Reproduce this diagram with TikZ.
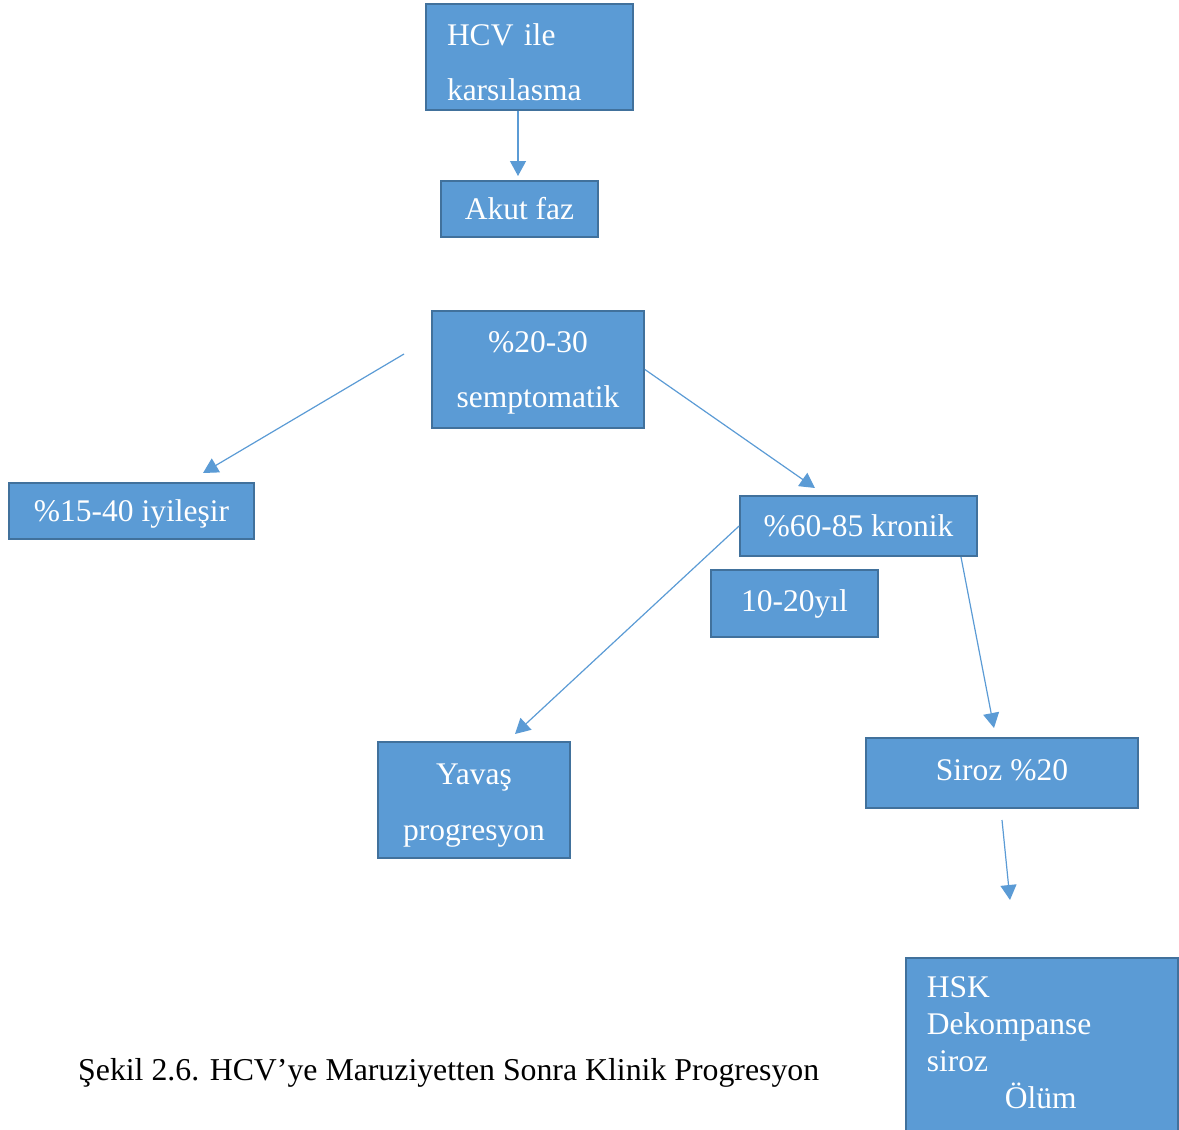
\documentclass[tikz,border=0pt]{standalone}
\usepackage{fontspec}
\setmainfont{Liberation Serif}
\usetikzlibrary{arrows.meta,positioning}
\definecolor{boxblue}{HTML}{5B9BD5}
\definecolor{boxedge}{HTML}{41719C}

\begin{document}
\begin{tikzpicture}[
    x=1pt, y=-1pt,
    stage/.style={draw=boxedge, fill=boxblue, line width=1.8pt,
                  text=white, inner sep=0pt,
                  font=\fontsize{31.5}{37}\selectfont},
    arr/.style={-{Triangle[length=15pt, width=16pt]}, line width=1.2pt,
                boxblue}
  ]
    \useasboundingbox (0,0) rectangle (1179,1130);

    % Acute phase
    \node[stage, minimum width=207, minimum height=106, text width=165,
          align=left, font=\fontsize{31.5}{55}\selectfont]
      (hcv) at (529.5,57) {\rule{0pt}{33pt}HCV ile\\karsılasma};
    \node[stage, minimum width=157, minimum height=56]
      (akut) at (519.5,209) {Akut faz};
    \node[stage, minimum width=212, minimum height=117, align=center,
          text depth=0pt, font=\fontsize{31.5}{55}\selectfont]
      (semp) at (538,369.5) {\%20-30\\semptomatik};
    \node[stage, minimum width=245, minimum height=56, text depth=0pt]
      (iyi) at (131.5,511) {\%15-40 iyileşir};
    \node[stage, minimum width=237, minimum height=60]
      (kronik) at (858.5,526) {\%60-85 kronik};
    \node[stage, minimum width=167, minimum height=67]
      (yil) at (794.5,603.5) {10-20yıl};

    % Chronic course
    \node[stage, minimum width=192, minimum height=116, align=center,
          text depth=0pt, font=\fontsize{31.5}{56}\selectfont]
      (yavas) at (474,800) {\rule{0pt}{24pt}Yavaş\\progresyon};
    \node[stage, minimum width=272, minimum height=70, text depth=5pt]
      (siroz) at (1002,773) {Siroz \%20};
    \node[stage, anchor=north west, minimum width=272]
      (hsk) at (905,957)
      {\begin{minipage}[t][180pt][t]{272pt}
         \vspace*{19pt}\hspace*{21pt}HSK\\
         \hspace*{21pt}Dekompanse\\
         \hspace*{21pt}siroz\\
         \hspace*{99pt}Ölüm
       \end{minipage}};

    % Free arrow ends
    \coordinate (c1) at (518,111);   \coordinate (c2) at (518,176);
    \coordinate (c3) at (404,354);   \coordinate (c4) at (203,473);
    \coordinate (c5) at (815,488);
    \coordinate (c6) at (515,734);
    \coordinate (c7) at (961,557);   \coordinate (c8) at (994,728);
    \coordinate (c9) at (1002,820);  \coordinate (c10) at (1010,900);

    \foreach \a/\b in {c1/c2, c3/c4, semp.east/c5, kronik.west/c6,
                       c7/c8, c9/c10}
      \draw[arr] (\a) -- (\b);

    % Caption
    \node[anchor=west, inner sep=0pt, font=\fontsize{31.8}{37}\selectfont]
      (caption) at (78,1073)
      {Şekil 2.6. HCV’ye Maruziyetten Sonra Klinik Progresyon};
  \end{tikzpicture}
\end{document}
